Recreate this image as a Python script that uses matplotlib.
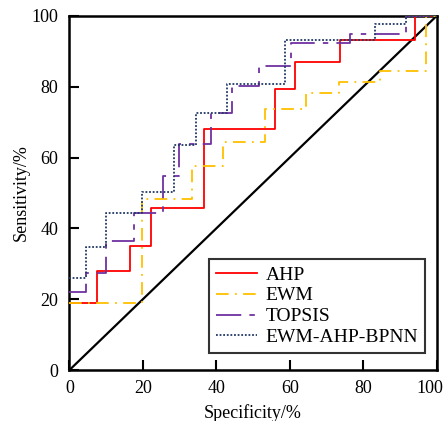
import matplotlib
matplotlib.use("Agg")
import matplotlib.pyplot as plt
from matplotlib.transforms import ScaledTranslation

plt.rcParams["font.family"] = ["Liberation Serif", "DejaVu Serif"]
plt.rcParams["font.size"] = 13

# step curves: (specificity %, sensitivity %)
ahp_x = [0, 7.6, 7.6, 16.6, 16.6, 22.2, 22.2, 36.7, 36.7, 56.1, 56.1, 61.5, 61.5, 73.7, 73.7, 94.1, 94.1, 100]
ahp_y = [19.0, 19.0, 28.1, 28.1, 35.0, 35.0, 45.8, 45.8, 68.0, 68.0, 79.3, 79.3, 87.1, 87.1, 93.2, 93.2, 100, 100]

ewm_x = [0, 19.7, 19.7, 33.4, 33.4, 41.9, 41.9, 53.2, 53.2, 64.4, 64.4, 73.5, 73.5, 84.7, 84.7, 97.1, 97.1, 100]
ewm_y = [19.0, 19.0, 48.3, 48.3, 57.6, 57.6, 64.5, 64.5, 73.7, 73.7, 78.2, 78.2, 81.4, 81.4, 84.5, 84.5, 100, 100]

topsis_x = [0, 4.5, 4.5, 9.9, 9.9, 17.6, 17.6, 25.5, 25.5, 29.9, 29.9, 38.7, 38.7, 44.3, 44.3,
            51.6, 51.6, 60.3, 60.3, 76.4, 76.4, 91.6, 91.6, 100]
topsis_y = [22.1, 22.1, 27.5, 27.5, 36.5, 36.5, 44.4, 44.4, 54.9, 54.9, 63.8, 63.8, 72.5, 72.5, 80.2,
            80.2, 86.0, 86.0, 92.3, 92.3, 94.8, 94.8, 100, 100]

bpnn_x = [0, 4.5, 4.5, 9.9, 9.9, 19.7, 19.7, 28.5, 28.5, 34.4, 34.4, 43.0, 43.0, 58.8, 58.8,
          83.2, 83.2, 91.8, 91.8, 100]
bpnn_y = [25.9, 25.9, 34.7, 34.7, 44.3, 44.3, 50.4, 50.4, 63.6, 63.6, 72.7, 72.7, 80.8, 80.8, 93.2,
          93.2, 97.7, 97.7, 100, 100]

ticks = [0, 20, 40, 60, 80, 100]

fig = plt.figure(figsize=(4.45, 4.21), dpi=100)
ax = fig.add_axes([0.156, 0.121, 0.825, 0.841])

ax.plot([0, 100], [0, 100], color="black", lw=1.6, zorder=2)
ax.plot(ahp_x, ahp_y, color="#ff0000", lw=1.3, label="AHP", zorder=3)
ax.plot(ewm_x, ewm_y, color="#ffc000", lw=1.3, dashes=(7, 3.5, 1, 3.5), label="EWM", zorder=3)
ax.plot(topsis_x, topsis_y, color="#7030a0", lw=1.3, dashes=(14, 4.5, 3, 4.5), label="TOPSIS", zorder=3)
ax.plot(bpnn_x, bpnn_y, color="#203864", lw=1.3, dashes=(1, 1), label="EWM-AHP-BPNN", zorder=4)

ax.set_xlim(0, 100)
ax.set_ylim(0, 100)
ax.set_xticks(ticks)
ax.set_yticks(ticks)
ax.tick_params(direction="in", length=7, width=1.5, top=False, right=False)
ax.tick_params(axis="y", pad=8)
ax.tick_params(axis="x", pad=7)
for sp in ax.spines.values():
    sp.set_linewidth(1.8)

# keep the last x label inside the canvas
last = ax.get_xticklabels()[-1]
last.set_transform(last.get_transform() + ScaledTranslation(-5 / 72, 0, fig.dpi_scale_trans))

ax.set_xlabel("Specificity/%", labelpad=5)
ax.set_ylabel("Sensitivity/%", labelpad=1)

leg = ax.legend(loc="lower right", bbox_to_anchor=(0.968, 0.048), borderaxespad=0,
                frameon=True, fancybox=False, edgecolor="black",
                handlelength=2.1, handletextpad=0.45, labelspacing=0.17,
                borderpad=0.35, fontsize=14)
leg.get_frame().set_linewidth(1.5)

fig.savefig("out.png", dpi=100)
